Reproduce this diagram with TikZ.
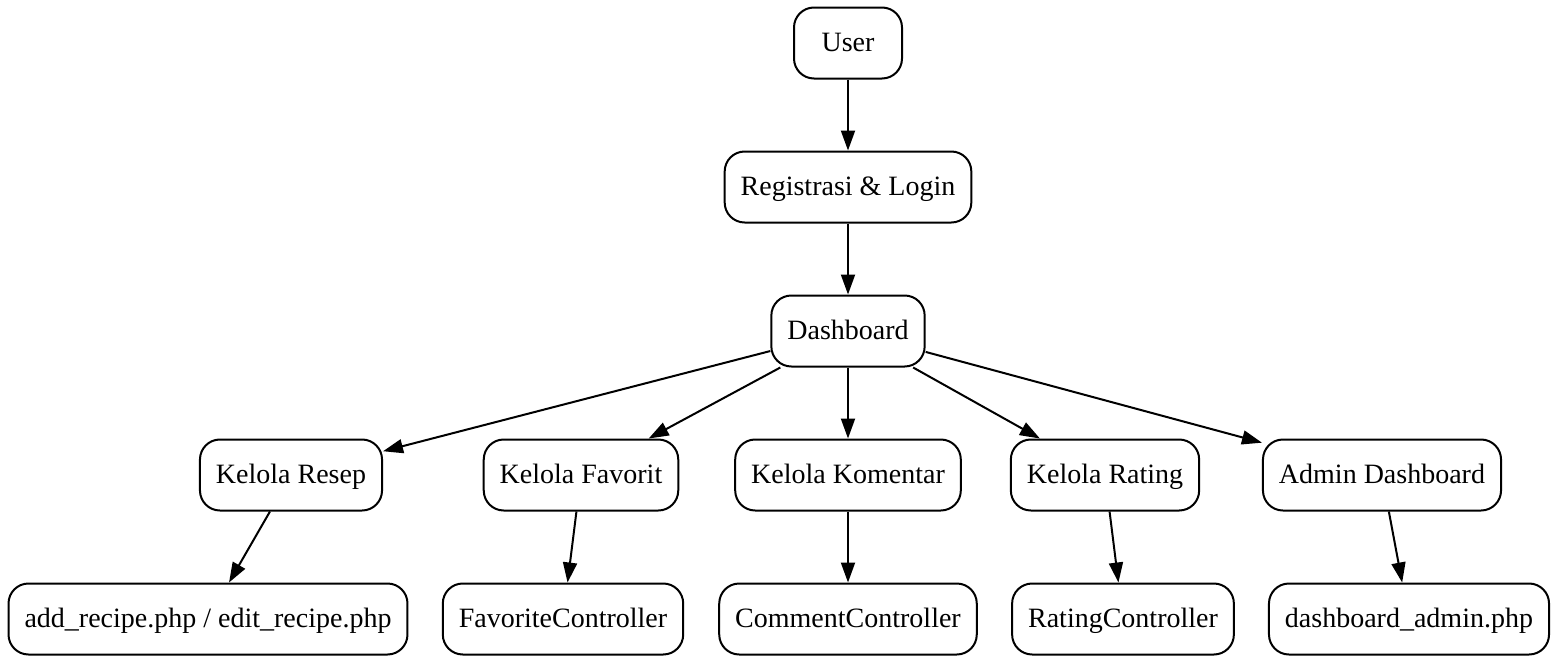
\documentclass[tikz,border=0pt]{standalone}
\usepackage{fontspec}
\setmainfont{Liberation Serif}
\usepackage{tikz}
\usetikzlibrary{arrows.meta}

\begin{document}
\begin{tikzpicture}[x=0.5pt, y=-0.5pt,
    box/.style={draw, line width=1pt, rounded corners=10pt, minimum height=35.5pt, minimum width=54pt, inner xsep=8pt, text height=10.5pt, text depth=2.5pt, font=\fontsize{14pt}{16pt}\selectfont},
    flow/.style={line width=1pt, -{Triangle[length=10pt, width=7pt]}}]
    \useasboundingbox (0,0) rectangle (1558,664);

    % Top of the flow
    \node[box] (User) at (848,43) {User};
    \node[box] (Login) at (848,187) {Registrasi \& Login};
    \node[box] (Dash) at (848,331) {Dashboard};

    % Modules
    \node[box] (Resep) at (291,475) {Kelola Resep};
    \node[box] (Favorit) at (581,475) {Kelola Favorit};
    \node[box] (Komentar) at (848,475) {Kelola Komentar};
    \node[box] (Rating) at (1105,475) {Kelola Rating};
    \node[box] (Admin) at (1382,475) {Admin Dashboard};

    % Files and controllers
    \node[box] (RecipeFile) at (208,619) {add\_recipe.php / edit\_recipe.php};
    \node[box] (FavCtrl) at (563,619) {FavoriteController};
    \node[box] (ComCtrl) at (848,619) {CommentController};
    \node[box] (RateCtrl) at (1123,619) {RatingController};
    \node[box] (AdminFile) at (1409,619) {dashboard\_admin.php};

    % Connect the nodes
    \draw[flow] (User) -- (Login);
    \draw[flow] (Login) -- (Dash);
    \foreach \m in {Resep, Favorit, Komentar, Rating, Admin}
        \draw[flow] (Dash) -- (\m);
    \foreach \m/\f in {Resep/RecipeFile, Favorit/FavCtrl, Komentar/ComCtrl, Rating/RateCtrl, Admin/AdminFile}
        \draw[flow] (\m) -- (\f);
\end{tikzpicture}
\end{document}
